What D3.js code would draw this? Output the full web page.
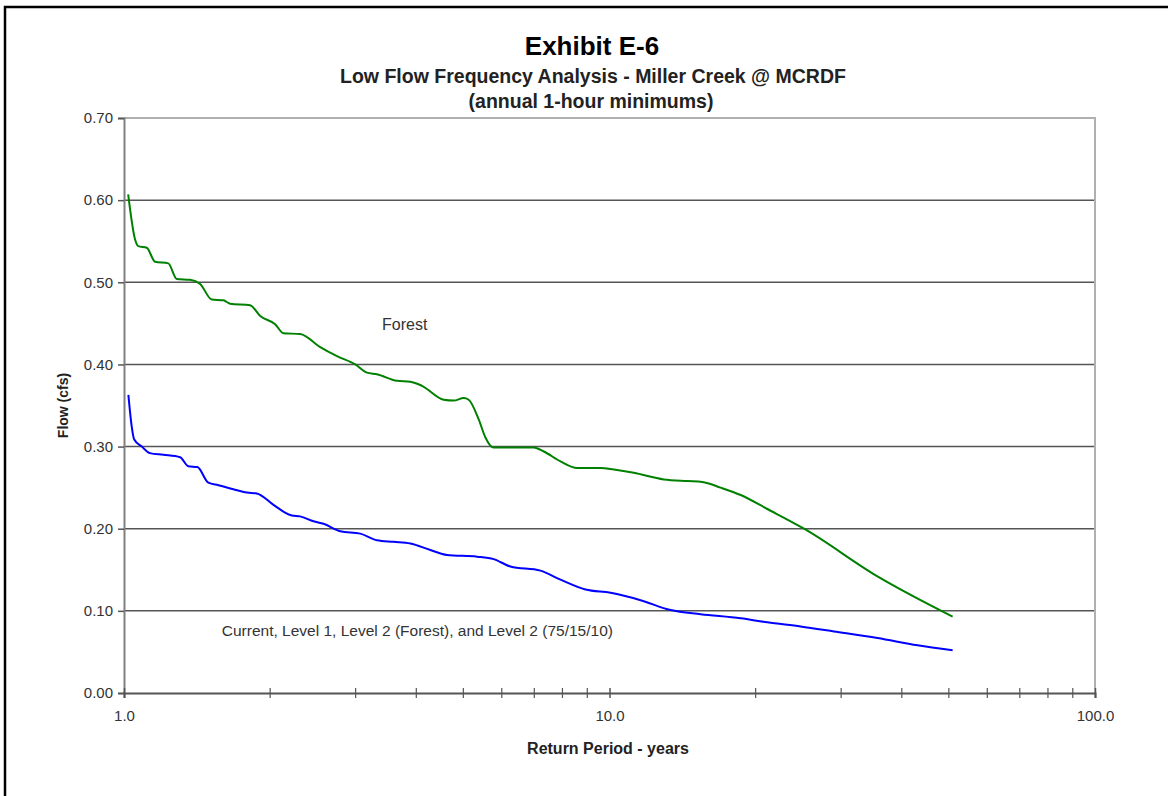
<!DOCTYPE html>
<html>
<head>
<meta charset="utf-8">
<script src="https://cdn.jsdelivr.net/npm/d3@7"></script>
<style>
  body { margin: 0; background: #fff; }
  svg text { font-family: Arial, "Liberation Sans", sans-serif; }
</style>
</head>
<body>
<div id="chart"></div>
<script>
// return period (years) and flow (cfs)
const forestYears = [1.02, 1.054, 1.07, 1.114, 1.159, 1.234, 1.284, 1.368, 1.435, 1.516, 1.602, 1.654, 1.819, 1.908, 2.048, 2.131, 2.306, 2.536, 2.746, 2.995, 3.166, 3.319, 3.65, 3.888, 4.11, 4.554, 4.775, 5.008, 5.128, 5.378, 5.552, 5.758, 6.983, 7.322, 7.925, 8.579, 9.582, 10.21, 11.22, 12.94, 14.46, 15.53, 16.94, 18.63, 21.14, 25.16, 35.64, 50.9];
const forestFlow = [0.607, 0.552, 0.544, 0.542, 0.525, 0.523, 0.504, 0.503, 0.498, 0.479, 0.478, 0.474, 0.472, 0.459, 0.449, 0.438, 0.437, 0.421, 0.41, 0.4, 0.39, 0.388, 0.38, 0.379, 0.374, 0.357, 0.356, 0.359, 0.357, 0.333, 0.311, 0.299, 0.299, 0.294, 0.282, 0.274, 0.274, 0.272, 0.268, 0.26, 0.258, 0.257, 0.25, 0.241, 0.224, 0.2, 0.142, 0.093];

const currentYears = [1.021, 1.037, 1.049, 1.088, 1.131, 1.205, 1.305, 1.357, 1.416, 1.492, 1.565, 1.68, 1.791, 1.877, 2.032, 2.217, 2.306, 2.457, 2.576, 2.789, 3.067, 3.319, 3.592, 3.888, 4.275, 4.628, 5.337, 5.774, 6.25, 7.206, 7.925, 8.924, 10.05, 11.59, 13.36, 15.41, 18.63, 21.14, 24.76, 29.01, 35.64, 43.1, 50.9];
const currentFlow = [0.363, 0.325, 0.309, 0.3, 0.292, 0.29, 0.287, 0.276, 0.275, 0.256, 0.253, 0.248, 0.244, 0.243, 0.229, 0.216, 0.215, 0.209, 0.206, 0.197, 0.194, 0.186, 0.184, 0.182, 0.174, 0.168, 0.166, 0.163, 0.154, 0.149, 0.138, 0.126, 0.122, 0.113, 0.101, 0.096, 0.091, 0.086, 0.081, 0.075, 0.067, 0.058, 0.052];

const yTicks = [0, 0.1, 0.2, 0.3, 0.4, 0.5, 0.6, 0.7];
const xMajor = [1, 10, 100];
const xMinor = [2, 3, 4, 5, 6, 7, 8, 9, 20, 30, 40, 50, 60, 70, 80, 90];

const W = 1175, H = 796;
const margin = { top: 118, right: 80, bottom: 103, left: 124 };
const width = W - margin.left - margin.right;
const height = H - margin.top - margin.bottom;

const svg = d3.select("#chart").append("svg")
  .attr("width", W).attr("height", H);

// outer frame (left + top only visible in the source)
svg.append("path")
  .attr("d", `M5,${H} V7 H1168`)
  .attr("fill", "none").attr("stroke", "#000").attr("stroke-width", 2.5);

const g = svg.append("g").attr("transform", `translate(${margin.left},${margin.top})`);

const x = d3.scaleLog().domain([1, 100]).range([0, width]);
const y = d3.scaleLinear().domain([0, 0.7]).range([height, 0]);

// gridlines
g.selectAll(".grid").data(yTicks.filter(d => d > 0 && d < 0.7)).enter()
  .append("line")
  .attr("x1", 0).attr("x2", width)
  .attr("y1", d => y(d)).attr("y2", d => y(d))
  .attr("stroke", "#555").attr("stroke-width", 1.5);

// plot frame top + right
g.append("path")
  .attr("d", `M0,${y(0.7)} H${width} V${height}`)
  .attr("fill", "none").attr("stroke", "#b0b0b0").attr("stroke-width", 2);

// y axis
const yAxis = g.append("g")
  .call(d3.axisLeft(y).tickValues(yTicks).tickFormat(d3.format(".2f")).tickSize(6).tickPadding(5));
yAxis.select(".domain").attr("stroke", "#808080").attr("stroke-width", 2);
yAxis.selectAll(".tick line").attr("stroke", "#555").attr("stroke-width", 1.5);
yAxis.selectAll("text").attr("font-size", 15).attr("fill", "#333");

// x axis
const xAxis = g.append("g").attr("transform", `translate(0,${height})`)
  .call(d3.axisBottom(x).tickValues(xMajor).tickFormat(d3.format(".1f")).tickSize(5).tickPadding(12));
xAxis.select(".domain").attr("stroke", "#555").attr("stroke-width", 2);
xAxis.selectAll(".tick line").attr("y1", -5).attr("stroke", "#555").attr("stroke-width", 1.5);
xAxis.selectAll("text").attr("font-size", 15).attr("fill", "#333");

xAxis.selectAll(".minor").data(xMinor).enter()
  .append("line")
  .attr("x1", d => x(d)).attr("x2", d => x(d))
  .attr("y1", -5).attr("y2", 5)
  .attr("stroke", "#555").attr("stroke-width", 1.2);

// series
const line = d3.line()
  .x(d => x(d[0])).y(d => y(d[1]))
  .curve(d3.curveMonotoneX);

g.append("path")
  .datum(d3.zip(forestYears, forestFlow))
  .attr("d", line)
  .attr("fill", "none").attr("stroke", "#008000").attr("stroke-width", 2);

g.append("path")
  .datum(d3.zip(currentYears, currentFlow))
  .attr("d", line)
  .attr("fill", "none").attr("stroke", "#0000ff").attr("stroke-width", 2);

// annotations
g.append("text").attr("x", x(3.4)).attr("y", y(0.442))
  .attr("font-size", 16).attr("fill", "#333").text("Forest");
g.append("text").attr("x", x(1.59)).attr("y", y(0.069))
  .attr("font-size", 15.5).attr("fill", "#333")
  .text("Current, Level 1, Level 2 (Forest), and Level 2 (75/15/10)");

// titles
svg.append("text").attr("x", 592).attr("y", 55).attr("text-anchor", "middle")
  .attr("font-size", 26).attr("font-weight", "bold").attr("fill", "#000").text("Exhibit E-6");
svg.append("text").attr("x", 593).attr("y", 83).attr("text-anchor", "middle")
  .attr("font-size", 19.5).attr("font-weight", "bold").attr("fill", "#222")
  .text("Low Flow Frequency Analysis - Miller Creek @ MCRDF");
svg.append("text").attr("x", 591).attr("y", 108).attr("text-anchor", "middle")
  .attr("font-size", 19.5).attr("font-weight", "bold").attr("fill", "#222")
  .text("(annual 1-hour minimums)");

svg.append("text")
  .attr("transform", `translate(68,${margin.top + height / 2}) rotate(-90)`)
  .attr("text-anchor", "middle").attr("font-size", 14).attr("font-weight", "bold").attr("fill", "#222")
  .text("Flow (cfs)");
svg.append("text").attr("x", 608).attr("y", 754).attr("text-anchor", "middle")
  .attr("font-size", 16).attr("font-weight", "bold").attr("fill", "#222")
  .text("Return Period - years");
</script>
</body>
</html>
